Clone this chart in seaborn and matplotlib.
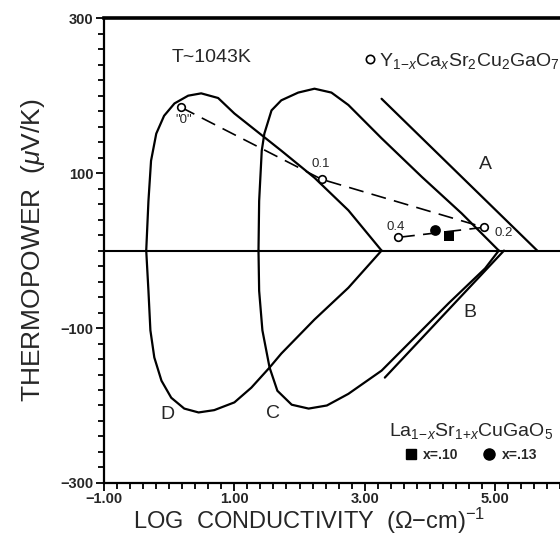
import pandas as pd
import seaborn as sns
import matplotlib
matplotlib.use('Agg')
from matplotlib import pyplot as plt
from matplotlib.lines import Line2D
from matplotlib.ticker import FixedLocator, MultipleLocator, FuncFormatter

# curve D (closed loop, cusp at right)
d_upper_x = [3.26, 2.75, 2.23, 1.72, 1.30, 1.00, 0.75, 0.49, 0.29, 0.08, -0.08, -0.20, -0.28, -0.32, -0.354]
d_upper_y = [0, 52, 94, 129, 157, 177, 197, 203, 200, 190, 174, 151, 116, 64, 0]
d_lower_x = [-0.354, -0.32, -0.29, -0.23, -0.12, 0.03, 0.23, 0.45, 0.69, 1.00, 1.26, 1.54, 1.72, 2.23, 2.75, 3.26]
d_lower_y = [0, -52, -103, -138, -168, -190, -204, -209, -206, -196, -177, -151, -133, -89, -48, 0]

# curve C
c_upper_x = [5.06, 4.49, 3.88, 3.26, 2.75, 2.49, 2.23, 1.98, 1.72, 1.57, 1.46, 1.42, 1.38, 1.37]
c_upper_y = [0, 48, 95, 145, 188, 204, 209, 204, 194, 181, 151, 129, 64, 0]
c_lower_x = [1.37, 1.38, 1.43, 1.54, 1.66, 1.88, 2.14, 2.42, 2.75, 3.26, 3.77, 4.29, 4.85, 5.06]
c_lower_y = [0, -52, -103, -151, -181, -199, -204, -200, -185, -155, -112, -68, -23, 0]

# straight lines A and B
a_x = [3.26, 5.65]
a_y = [196, 0]
b_x = [3.31, 5.14]
b_y = [-164, 0]

# Y1-xCaxSr2Cu2GaO7, in composition order
y_comp = ['"0"', '0.1', '0.2', '0.4']
y_x = [0.18, 2.34, 4.83, 3.51]
y_s = [185, 92, 30, 17]

# La1-xSr1+xCuGaO5
la_comp = ['x=.10', 'x=.13']
la_x = [4.29, 4.08]
la_s = [19, 27]

curve_labels = ['A', 'B', 'C', 'D']
curve_label_x = [4.85, 4.62, 1.60, -0.03]
curve_label_y = [111, -80, -210, -212]

sns.set_theme(style='white')
plt.rcParams['font.family'] = ['Liberation Sans', 'DejaVu Sans']
plt.rcParams['mathtext.fontset'] = 'custom'
plt.rcParams['mathtext.rm'] = 'Liberation Sans'
plt.rcParams['mathtext.it'] = 'Liberation Sans:italic'

fig = plt.figure(figsize=(5.6, 5.36), dpi=100)
ax = fig.add_axes([0.186, 0.099, 0.814, 0.867])

ax.axhline(0, color='black', lw=1.5, zorder=1)

lw = 1.6
for xs, ys in [(d_upper_x, d_upper_y), (d_lower_x, d_lower_y),
               (c_upper_x, c_upper_y), (c_lower_x, c_lower_y),
               (a_x, a_y), (b_x, b_y)]:
    sns.lineplot(x=xs, y=ys, sort=False, estimator=None, color='black', lw=lw, ax=ax)

sns.lineplot(x=y_x, y=y_s, sort=False, estimator=None, color='black', lw=1.2,
             linestyle=(0, (9, 5)), ax=ax)
sns.scatterplot(x=y_x, y=y_s, marker='o', s=30, facecolor='white', edgecolor='black',
                linewidth=1.2, ax=ax, zorder=5)
sns.scatterplot(x=la_x[:1], y=la_s[:1], marker='s', s=55, color='black', linewidth=0, ax=ax, zorder=5)
sns.scatterplot(x=la_x[1:], y=la_s[1:], marker='o', s=60, color='black', linewidth=0, ax=ax, zorder=5)

# point labels
lab_off = [(0.04, -16), (-0.02, 20), (0.31, -7), (-0.03, 13)]
for name, px, py, (dx, dy) in zip(y_comp, y_x, y_s, lab_off):
    ax.text(px + dx, py + dy, name, fontsize=9.5, ha='center', va='center')

for name, lx, ly in zip(curve_labels, curve_label_x, curve_label_y):
    ax.text(lx, ly, name, fontsize=14, ha='center', va='center')

ax.text(0.65, 249, 'T~1043K', fontsize=14, ha='center', va='center')

leg1 = ax.legend(handles=[Line2D([], [], marker='o', ls='', mfc='white', mec='black', mew=1.2, ms=6)],
                 labels=[r'Y$_{1\!-\!x}$Ca$_x$Sr$_2$Cu$_2$GaO$_7$'],
                 loc='center right', bbox_to_anchor=(1.0, 0.908), frameon=False,
                 fontsize=14, handlelength=0.6, handletextpad=0.2, borderpad=0, borderaxespad=0)
ax.add_artist(leg1)
ax.legend(handles=[Line2D([], [], marker='s', ls='', color='black', ms=7),
                   Line2D([], [], marker='o', ls='', color='black', ms=8)],
          labels=la_comp, ncol=2, title=r'La$_{1\!-\!x}$Sr$_{1\!+\!x}$CuGaO$_5$',
          title_fontsize=14, prop={'size': 10, 'weight': 'bold'},
          loc='lower right', bbox_to_anchor=(0.985, 0.045), frameon=False,
          handlelength=0.8, handletextpad=0.5, columnspacing=1.8, borderpad=0, borderaxespad=0)

ax.set_xlim(-1, 6)
ax.set_ylim(-300, 300)
ax.xaxis.set_major_locator(FixedLocator([-1, 1, 3, 5]))
ax.xaxis.set_minor_locator(MultipleLocator(0.2))
ax.xaxis.set_major_formatter(FuncFormatter(lambda v, p: f'{v:.2f}'.replace('-', '\u2212')))
ax.yaxis.set_major_locator(FixedLocator([-300, -100, 100, 300]))
ax.yaxis.set_minor_locator(MultipleLocator(20))
ax.yaxis.set_major_formatter(FuncFormatter(lambda v, p: f'{v:.0f}'.replace('-', '\u2212')))
ax.tick_params(which='both', direction='out', color='black', width=1.3,
               bottom=True, left=True, top=False, right=False)
ax.tick_params(which='major', length=6, labelsize=10.5, pad=1.5)
ax.tick_params(axis='x', which='major', pad=0.5)
ax.tick_params(which='minor', length=4.5)
for t in ax.get_xticklabels() + ax.get_yticklabels():
    t.set_fontweight('bold')

for side in ['left', 'bottom']:
    ax.spines[side].set_linewidth(1.6)
    ax.spines[side].set_color('black')
ax.spines['top'].set_linewidth(2.6)
ax.spines['top'].set_color('black')
ax.spines['right'].set_visible(False)

ax.set_xlabel(r'LOG  CONDUCTIVITY  ($\Omega$$-$cm)$^{-1}$', fontsize=17)
ax.xaxis.set_label_coords(0.45, -0.098, transform=ax.transAxes)
ax.xaxis.label.set_va('baseline')
ax.set_ylabel(r'THERMOPOWER  ($\mu$V/K)', fontsize=19, labelpad=10)

plt.savefig('out.png', dpi=100)
plt.close()
